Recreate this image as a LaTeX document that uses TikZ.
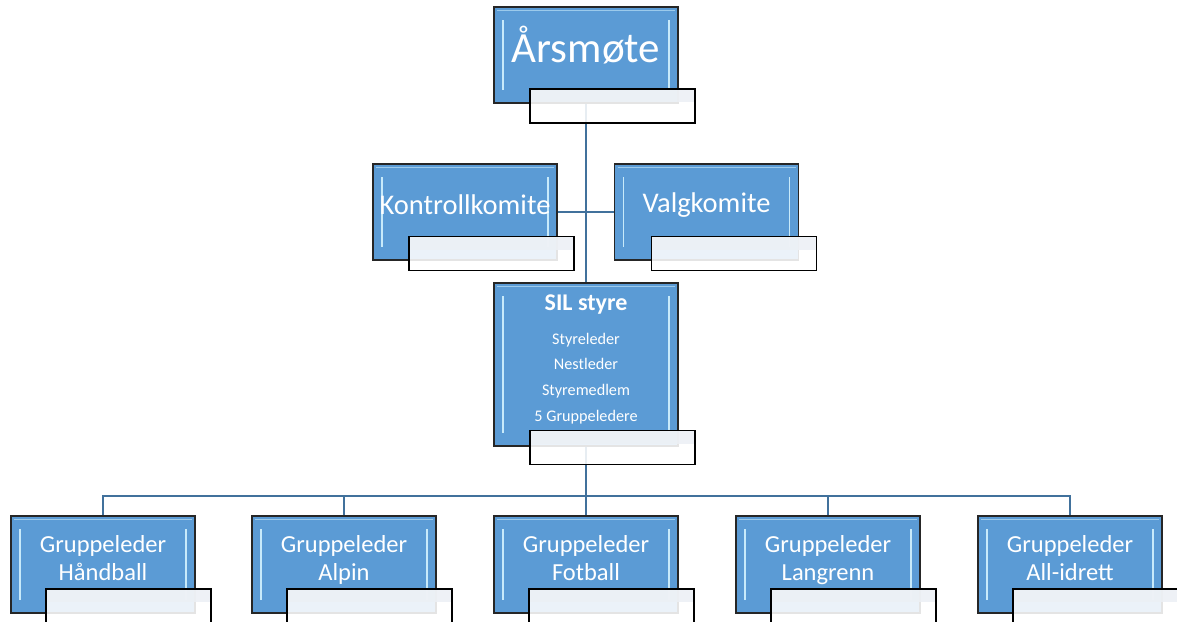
\documentclass[tikz,border=0pt]{standalone}
\usepackage{fontspec}
\setmainfont{Carlito}
\definecolor{boxblue}{RGB}{91,155,213}
\definecolor{linkblue}{RGB}{65,113,156}
\definecolor{bevelc}{RGB}{200,234,250}
\definecolor{subtop}{RGB}{236,240,245}
\pgfdeclarelayer{bg}\pgfsetlayers{bg,main}
\tikzset{
  bluebox/.style={rectangle, draw=black!85, line width=1.1pt, fill=boxblue,
    inner sep=0pt, minimum width=184pt,
    path picture={
      \draw[bevelc, line width=1.8pt]
        ([xshift=9pt,yshift=-13pt]path picture bounding box.north west) --
        ([xshift=9pt,yshift=13pt]path picture bounding box.south west);
      \draw[bevelc, line width=1.8pt]
        ([xshift=-9pt,yshift=-13pt]path picture bounding box.north east) --
        ([xshift=-9pt,yshift=13pt]path picture bounding box.south east);
      \draw[bevelc!60!boxblue, line width=1pt]
        ([xshift=3pt,yshift=-3pt]path picture bounding box.north west) --
        ([xshift=-3pt,yshift=-3pt]path picture bounding box.north east);
    }},
  subbox/.style={rectangle, draw=black, line width=1.1pt, fill=white,
    fill opacity=0.88, inner sep=0pt, minimum width=165pt, minimum height=34pt,
    path picture={
      \fill[subtop]
        (path picture bounding box.north west) rectangle
        ([yshift=-13pt]path picture bounding box.north east);
    }},
  link/.style={draw=linkblue, line width=1.4pt},
  lbl/.style={text=white, align=center, inner sep=0pt},
  biglbl/.style={lbl, font=\fontsize{43}{46}\selectfont},
  midlbl/.style={lbl, font=\fontsize{28.5}{32}\selectfont},
  grplbl/.style={lbl, font=\fontsize{24.5}{28}\selectfont},
}
\begin{document}
\begin{tikzpicture}[x=1pt, y=-1pt]
\useasboundingbox (0,0) rectangle (1177,621);

% top
\node[bluebox, minimum height=96pt] (aars) at (586,55) {};
\node[subbox] (aarsS) at (612.5,106) {};
\node[biglbl] (aarsT) at (586,45) {Årsmøte};

% committees
\node[bluebox, minimum height=96pt] (kont) at (465,212) {};
\node[subbox] (kontS) at (491.5,253.5) {};
\node[midlbl] (kontT) at (465,205) {Kontrollkomite};

\node[bluebox, minimum height=96pt] (valg) at (706.5,212) {};
\node[subbox] (valgS) at (734,253.5) {};
\node[midlbl] (valgT) at (706.5,205) {Valgkomite};

% board
\node[bluebox, minimum height=163pt] (sil) at (586,364.5) {};
\node[subbox] (silS) at (612.5,447.5) {};
\node[lbl, font=\bfseries\fontsize{24}{26}\selectfont] (silT) at (586,305) {SIL styre};
\node[lbl, font=\fontsize{16.2}{25.7}\selectfont] (silL) at (586,377.5)
  {Styreleder\strut\\Nestleder\strut\\Styremedlem\strut\\5 Gruppeledere\strut};

% groups
\node[bluebox, minimum height=97pt] (g1) at (103,564.5) {};
\node[subbox] (g1S) at (128.5,606) {};
\node[grplbl] (g1T) at (103,560.4) {Gruppeleder\strut\\Håndball\strut};

\node[bluebox, minimum height=97pt] (g2) at (344,564.5) {};
\node[subbox] (g2S) at (369.5,606) {};
\node[grplbl] (g2T) at (344,560.4) {Gruppeleder\strut\\Alpin\strut};

\node[bluebox, minimum height=97pt] (g3) at (586,564.5) {};
\node[subbox] (g3S) at (611.5,606) {};
\node[grplbl] (g3T) at (586,560.4) {Gruppeleder\strut\\Fotball\strut};

\node[bluebox, minimum height=97pt] (g4) at (828,564.5) {};
\node[subbox] (g4S) at (853.5,606) {};
\node[grplbl] (g4T) at (828,560.4) {Gruppeleder\strut\\Langrenn\strut};

\node[bluebox, minimum height=97pt] (g5) at (1070,564.5) {};
\node[subbox] (g5S) at (1095.5,606) {};
\node[grplbl] (g5T) at (1070,560.4) {Gruppeleder\strut\\All-idrett\strut};

\coordinate (bus) at (586,496);

\begin{pgfonlayer}{bg}
  \draw[link] (aars.south) -- (sil.north);
  \draw[link] (kont.east) -- (valg.west);
  \draw[link] (sil.south) -- (bus);
  \foreach \g in {g1,g2,g3,g4,g5}
    \draw[link] (bus) -| (\g.north);
\end{pgfonlayer}
\end{tikzpicture}
\end{document}
